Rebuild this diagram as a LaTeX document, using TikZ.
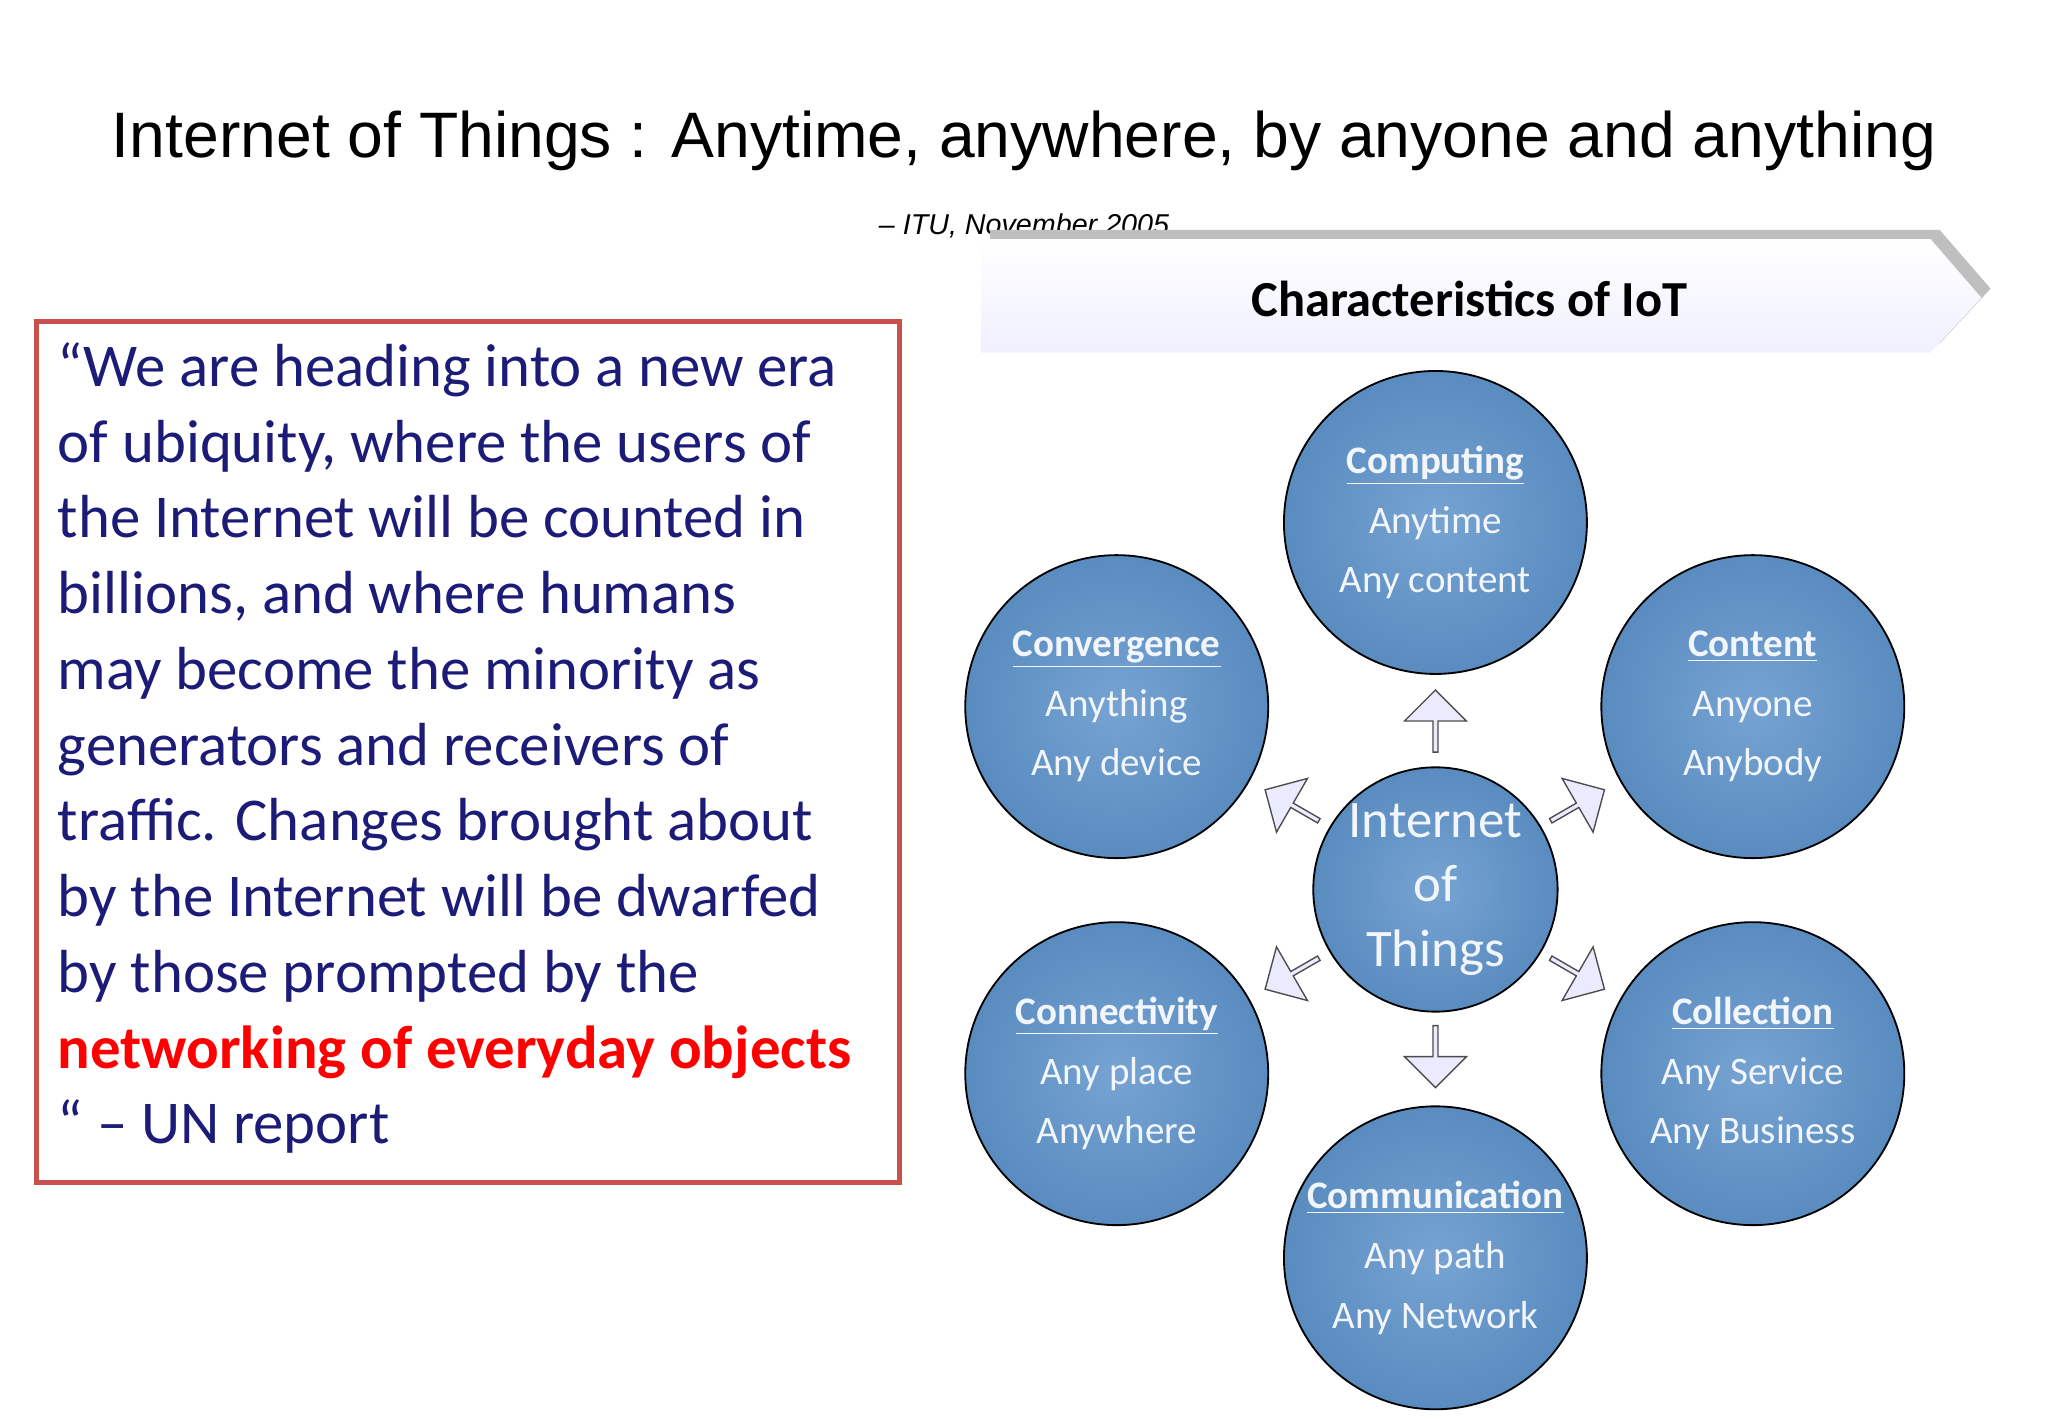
\documentclass[tikz,border=0pt]{standalone}
\usepackage{fontspec}
\setmainfont{Carlito}
\newfontfamily\arialf{Liberation Sans}
\usetikzlibrary{shapes.arrows,shadows}
\definecolor{navy}{HTML}{1C1C78}
\definecolor{cfill}{HTML}{5E93CA}
\definecolor{boxred}{HTML}{C9504D}
\tikzset{
 bubble/.style={circle,draw=black,line width=0.8pt,minimum size=4.64cm,inner sep=0pt,
   inner color=cfill!85!white,outer color=cfill!95!black,text=white!92!cfill,align=center,
   font=\fontsize{17}{26}\selectfont},
 barrow/.style={single arrow,draw=black!70,line width=0.6pt,fill=blue!8!white,minimum height=0.95cm,
   minimum width=0.95cm,single arrow head extend=0.12cm,inner sep=0pt},
}
\begin{document}
\begin{tikzpicture}[x=0.02cm,y=-0.02cm]
\useasboundingbox (0,0) rectangle (1568,1086);
\node[font=\arialf\fontsize{28}{32}\selectfont] (title) at (784,108) {Internet of Things : Anytime, anywhere, by anyone and anything};
\node[font=\arialf\itshape\fontsize{12.5}{14}\selectfont] (sub) at (784,173) {– ITU, November 2005};
% banner
\fill[black!25,xshift=4,yshift=4] (751,183) -- (1478,183) -- (1517,228) -- (1478,270) -- (751,270) -- cycle;
\shade[top color=white,bottom color=blue!6!white] (751,183) -- (1478,183) -- (1517,228) -- (1478,270) -- (751,270) -- cycle;
\node[font=\bfseries\fontsize{22}{26}\selectfont] (ban) at (1125,229) {Characteristics of IoT};
% quote box
\draw[boxred,line width=2.2pt] (28,246) rectangle (689,905);
\node[anchor=north west,align=left,text=navy,inner sep=0pt,font=\fontsize{26.5}{33}\selectfont] (q) at (44,262) {%
“We are heading into a new era\\
of ubiquity, where the users of\\
the Internet will be counted in\\
billions, and where humans\\
may become the minority as\\
generators and receivers of\\
traffic. Changes brought about\\
by the Internet will be dwarfed\\
by those prompted by the\\
\textcolor{red}{\bfseries networking of everyday objects}\\
“ – UN report};
% bubbles
\node[bubble] (comp) at (1099,400) {\textbf{\underline{Computing}}\\Anytime\\Any content};
\node[bubble] (conv) at (855,541) {\textbf{\underline{Convergence}}\\Anything\\Any device};
\node[bubble] (cont) at (1342,541) {\textbf{\underline{Content}}\\Anyone\\Anybody};
\node[bubble] (conn) at (855,822) {\textbf{\underline{Connectivity}}\\Any place\\Anywhere};
\node[bubble] (coll) at (1342,822) {\textbf{\underline{Collection}}\\Any Service\\Any Business};
\node[bubble] (comm) at (1099,963) {\textbf{\underline{Communication}}\\Any path\\Any Network};
\node[bubble,minimum size=3.72cm,font=\fontsize{23}{28}\selectfont] (iot) at (1099,681) {Internet\\of\\Things};
% arrows
\node[barrow,rotate=90] (a1) at (1099,553) {};
\node[barrow,rotate=-90] (a2) at (1099,808) {};
\node[barrow,rotate=150] (a3) at (990,617) {};
\node[barrow,rotate=30] (a4) at (1207,617) {};
\node[barrow,rotate=210] (a5) at (990,745) {};
\node[barrow,rotate=-30] (a6) at (1207,745) {};
\end{tikzpicture}
\end{document}
